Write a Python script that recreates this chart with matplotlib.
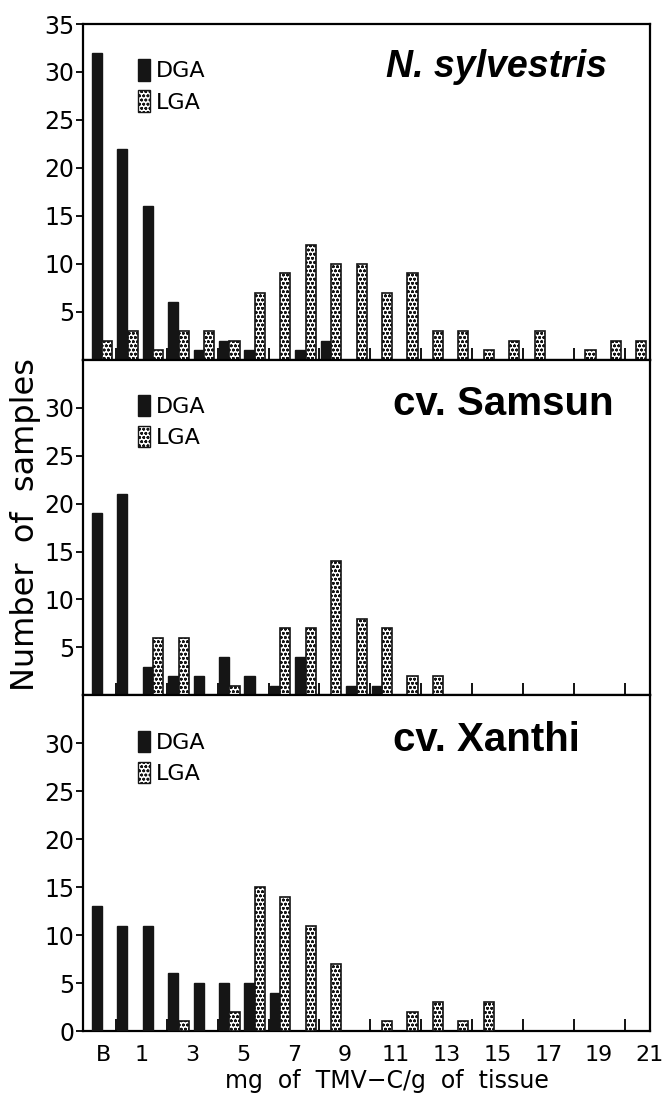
import numpy as np
import matplotlib.pyplot as plt
from matplotlib.patches import Patch

plt.rcParams['font.family'] = ['DejaVu Sans']
plt.rcParams['hatch.linewidth'] = 0.8

# bins: index 0 = "B" (blank), index i = (i-1, i] mg of TMV-C/g
n_bins = 22
bin_idx = np.arange(n_bins)
tick_pos = [-0.5, 1, 3, 5, 7, 9, 11, 13, 15, 17, 19, 21]
tick_labels = ['B', '1', '3', '5', '7', '9', '11', '13', '15', '17', '19', '21']

panel_names = ['N. sylvestris', 'cv. Samsun', 'cv. Xanthi']

sylv_dga = [32, 22, 16, 6, 1, 2, 1, 0, 1, 2, 0, 0, 0, 0, 0, 0, 0, 0, 0, 0, 0, 0]
sylv_lga = [2, 3, 1, 3, 3, 2, 7, 9, 12, 10, 10, 7, 9, 3, 3, 1, 2, 3, 0, 1, 2, 2]

samsun_dga = [19, 21, 3, 2, 2, 4, 2, 1, 4, 0, 1, 1, 0, 0, 0, 0, 0, 0, 0, 0, 0, 0]
samsun_lga = [0, 0, 6, 6, 0, 1, 0, 7, 7, 14, 8, 7, 2, 2, 0, 0, 0, 0, 0, 0, 0, 0]

xanthi_dga = [13, 11, 11, 6, 5, 5, 5, 4, 0, 0, 0, 0, 0, 0, 0, 0, 0, 0, 0, 0, 0, 0]
xanthi_lga = [0, 0, 0, 1, 0, 2, 15, 14, 11, 7, 0, 1, 2, 3, 1, 3, 0, 0, 0, 0, 0, 0]

dga_sets = [sylv_dga, samsun_dga, xanthi_dga]
lga_sets = [sylv_lga, samsun_lga, xanthi_lga]
yticks_sets = [[5, 10, 15, 20, 25, 30, 35], [5, 10, 15, 20, 25, 30],
               [0, 5, 10, 15, 20, 25, 30]]

fig = plt.figure(figsize=(6.67, 11.02), dpi=100)
left, width = 0.1244, 0.850
h = 0.3046
bottoms = [0.0644 + 2 * h, 0.0644 + h, 0.0644]

bw = 0.40
for k in range(3):
    ax = fig.add_axes([left, bottoms[k], width, h])
    dga = [v if v > 0 else np.nan for v in dga_sets[k]]
    lga = [v if v > 0 else np.nan for v in lga_sets[k]]
    ax.bar(bin_idx - 1 + 0.25, dga, width=bw, color='#151515',
           edgecolor='#151515', linewidth=1.0, zorder=3)
    ax.bar(bin_idx - 1 + 0.66, lga, width=bw, color='white',
           edgecolor='#151515', linewidth=1.2, hatch='oooo', zorder=3)

    ax.set_xlim(-1.3, 21)
    ax.set_ylim(0, 35)
    ax.set_yticks(yticks_sets[k])
    ax.tick_params(axis='y', direction='out', length=5, width=1.3,
                   labelsize=17, pad=1)
    ax.set_xticks(tick_pos)
    ax.set_xticks(np.arange(0, 21), minor=True)
    ax.tick_params(axis='x', which='major', length=0, labelsize=16, pad=10)
    ax.tick_params(axis='x', which='minor', direction='in', length=9,
                   width=1.3)
    if k < 2:
        ax.set_xticklabels([])
    else:
        ax.set_xticklabels(tick_labels)
    for sp in ax.spines.values():
        sp.set_linewidth(1.6)

    handles = [Patch(facecolor='#151515', edgecolor='#151515'),
               Patch(facecolor='white', edgecolor='#151515', hatch='oooo')]
    ax.legend(handles, ['DGA', 'LGA'], loc='upper left',
              bbox_to_anchor=(0.097, 0.895), frameon=False, fontsize=16,
              handlelength=0.55, handleheight=1.1, handletextpad=0.25,
              labelspacing=0.4, borderpad=0, borderaxespad=0)

    if k == 0:
        ax.text(0.534, 0.871, panel_names[k], transform=ax.transAxes,
                ha='left', va='center', fontsize=27, fontweight='bold',
                style='italic', family='Liberation Sans')
    else:
        ax.text(0.546, 0.868, panel_names[k], transform=ax.transAxes,
                ha='left', va='center', fontsize=29, fontweight='bold',
                family='Liberation Sans')

fig.text(0.0375, 0.524, 'Number  of  samples', rotation=90, ha='center',
         va='center', fontsize=23)
fig.text(0.58, 0.008, 'mg  of  TMV\u2212C/g  of  tissue', ha='center',
         va='bottom', fontsize=17)

fig.savefig('out.png', dpi=100)
